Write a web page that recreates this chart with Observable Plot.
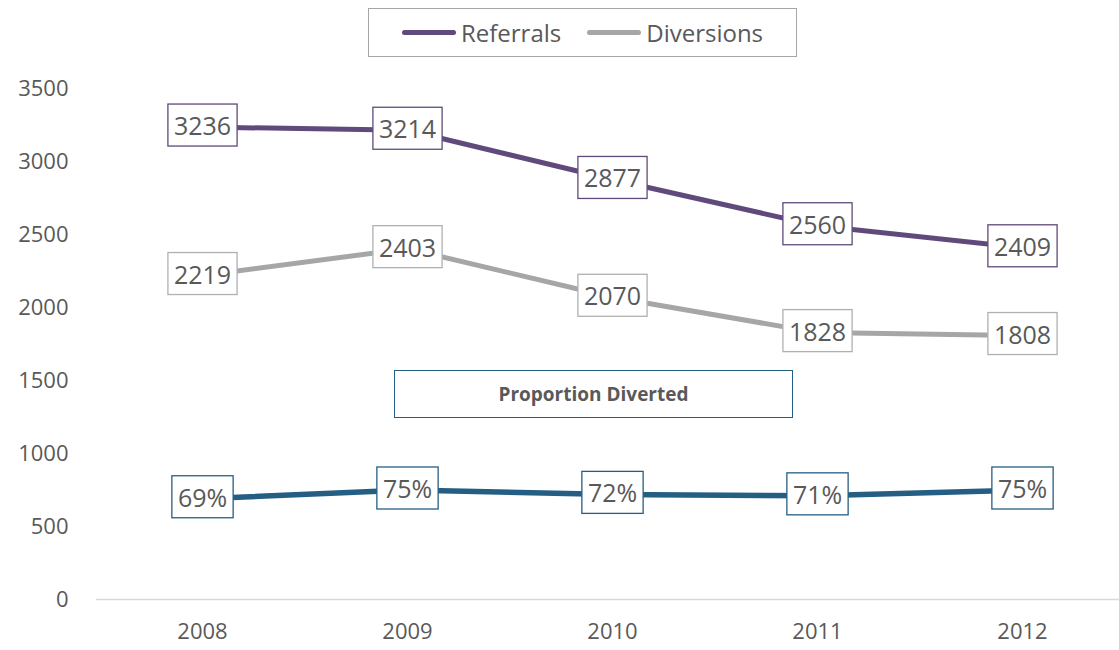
<!DOCTYPE html>
<html>
<head>
<meta charset="utf-8">
<script src="https://cdn.jsdelivr.net/npm/d3@7"></script>
<script src="https://cdn.jsdelivr.net/npm/@observablehq/plot@0.6"></script>
<style>
  html, body { margin: 0; padding: 0; background: #fff; }
  #wrap { position: relative; width: 1119px; height: 650px; font-family: "Open Sans", sans-serif; color: #595959; }
  #legend { position: absolute; left: 368px; top: 8px; width: 427px; height: 47px; border: 1.5px solid #a6a6a6; box-sizing: content-box; display: flex; align-items: center; justify-content: center; gap: 26px; font-size: 24px; background: #fff; }
  .item { display: flex; align-items: center; gap: 5px; }
  .sw { width: 54px; height: 5px; border-radius: 3px; }
  #pbox { position: absolute; left: 394px; top: 370px; width: 397px; height: 46px; border: 1.5px solid #255e83; display: flex; align-items: center; justify-content: center; font-weight: bold; font-size: 19px; color: #595959; background: #fff; }
</style>
</head>
<body>
<div id="wrap">
  <div id="chart"></div>
  <div id="legend"></div>
  <div id="pbox"></div>
</div>
<script>
const years = ["2008", "2009", "2010", "2011", "2012"];
const referrals = [3236, 3214, 2877, 2560, 2409];
const diversions = [2219, 2403, 2070, 1828, 1808];
const proportionPct = [69, 75, 72, 71, 75];
const yTicks = [0, 500, 1000, 1500, 2000, 2500, 3000, 3500];
const seriesNames = ["Referrals", "Diversions"];
const seriesColors = ["#604a7b", "#a6a6a6"];
const proportionTitle = "Proportion Diverted";
const proportionColor = "#255e83";

const refData = years.map((y, i) => ({year: y, value: referrals[i], label: String(referrals[i])}));
const divData = years.map((y, i) => ({year: y, value: diversions[i], label: String(diversions[i])}));
const propData = years.map((y, i) => ({year: y, value: proportionPct[i] * 10, label: proportionPct[i] + "%"}));

const plot = Plot.plot({
  width: 1119,
  height: 650,
  marginLeft: 96,
  marginRight: 0,
  marginTop: 88,
  marginBottom: 51,
  style: {fontFamily: "'Open Sans', sans-serif", fontSize: "22px", color: "#595959", background: "transparent"},
  x: {type: "point", domain: years, range: [200, 1023], padding: 0, label: null, tickSize: 0, tickPadding: 24},
  y: {domain: [0, 3500], range: [599, 88], ticks: yTicks, tickFormat: "d", label: null, tickSize: 0, tickPadding: 28},
  marks: [
    Plot.ruleY([0], {stroke: "#d9d9d9", strokeWidth: 1.5}),
    Plot.line(refData, {x: "year", y: "value", stroke: seriesColors[0], strokeWidth: 5}),
    Plot.line(divData, {x: "year", y: "value", stroke: seriesColors[1], strokeWidth: 5}),
    Plot.line(propData, {x: "year", y: "value", stroke: proportionColor, strokeWidth: 5.5}),
    Plot.text(refData, {x: "year", y: "value", text: "label", fontSize: 25, fill: "#595959"}),
    Plot.text(divData, {x: "year", y: "value", text: "label", fontSize: 25, fill: "#595959"}),
    Plot.text(propData, {x: "year", y: "value", text: "label", fontSize: 25, fill: "#595959"})
  ]
});
document.getElementById("chart").appendChild(plot);

// boxes behind data labels
const boxColors = [seriesColors[0], "#b0b0b0", proportionColor];
const textGroups = plot.querySelectorAll('g[aria-label="text"]');
textGroups.forEach((g, gi) => {
  g.querySelectorAll("text").forEach(t => {
    const b = t.getBBox();
    const r = document.createElementNS("http://www.w3.org/2000/svg", "rect");
    r.setAttribute("x", b.x - 6);
    r.setAttribute("y", b.y - 4);
    r.setAttribute("width", b.width + 12);
    r.setAttribute("height", b.height + 8);
    r.setAttribute("fill", "#fff");
    r.setAttribute("stroke", boxColors[gi]);
    r.setAttribute("stroke-width", 1.3);
    const tr = t.getAttribute("transform");
    if (tr) r.setAttribute("transform", tr);
    t.parentNode.insertBefore(r, t);
  });
});

// legend
const legend = document.getElementById("legend");
seriesNames.forEach((n, i) => {
  const it = document.createElement("div");
  it.className = "item";
  const sw = document.createElement("div");
  sw.className = "sw";
  sw.style.background = seriesColors[i];
  const lab = document.createElement("span");
  lab.textContent = n;
  it.appendChild(sw);
  it.appendChild(lab);
  legend.appendChild(it);
});
document.getElementById("pbox").textContent = proportionTitle;
</script>
</body>
</html>
